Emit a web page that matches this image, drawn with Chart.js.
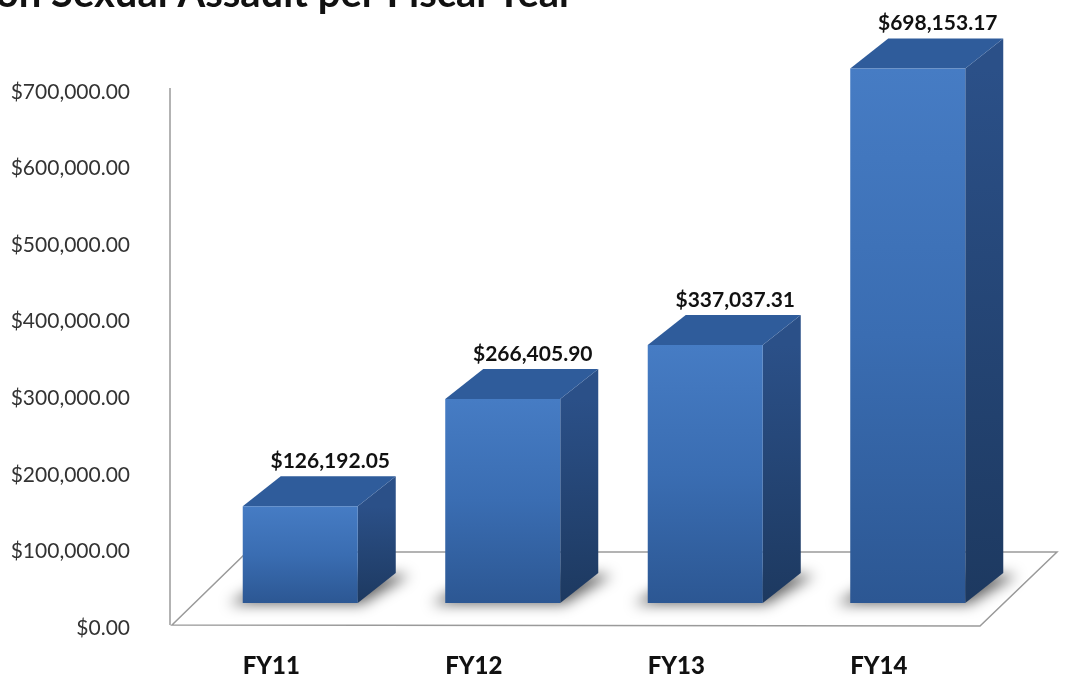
<!DOCTYPE html>
<html>
<head>
<meta charset="utf-8">
<script src="https://cdn.jsdelivr.net/npm/chart.js@4"></script>
<style>
  html, body { margin: 0; padding: 0; background: #fff; }
  #wrap { width: 1070px; height: 679px; }
</style>
</head>
<body>
<div id="wrap"><canvas id="chart" width="1070" height="679"></canvas></div>
<script>
// data
const years = ["FY11", "FY12", "FY13", "FY14"];
const spending = [126192.05, 266405.90, 337037.31, 698153.17];
const axisTicks = [0, 100000, 200000, 300000, 400000, 500000, 600000, 700000];
const titleText = "on Sexual Assault per Fiscal Year";

const DEPTH_X = 38, DEPTH_Y = -30;

function money(v) {
    return "$" + Number(v).toLocaleString("en-US", { minimumFractionDigits: 2, maximumFractionDigits: 2 });
}

// front face gradient per bar
function frontColor(ctx) {
    const chart = ctx.chart;
    if (!chart.chartArea) return "#3a6db3";
    const y = chart.scales.y;
    const top = y.getPixelForValue(ctx.raw);
    const bottom = y.getPixelForValue(0);
    const g = chart.ctx.createLinearGradient(0, top, 0, bottom);
    g.addColorStop(0, "#467cc4");
    g.addColorStop(0.5, "#3a6db2");
    g.addColorStop(1, "#2c5793");
    return g;
}

const backdrop = {
    id: "backdrop",
    beforeDatasetsDraw(chart) {
        const ctx = chart.ctx;
        const a = chart.chartArea;
        ctx.save();
        // left wall edge
        ctx.strokeStyle = "#9a9a9a";
        ctx.lineWidth = 1.5;
        ctx.beginPath();
        ctx.moveTo(a.left - 29, a.top + 21);
        ctx.lineTo(a.left - 29, a.bottom + 22);
        ctx.stroke();
        // floor
        ctx.beginPath();
        ctx.moveTo(a.left - 27, a.bottom + 22);
        ctx.lineTo(a.right - 29, a.bottom + 23);
        ctx.lineTo(a.right + 48, a.bottom - 51);
        ctx.lineTo(a.left + 48, a.bottom - 51);
        ctx.closePath();
        ctx.stroke();

        const meta = chart.getDatasetMeta(0);
        meta.data.forEach(bar => {
            const l = bar.x - bar.width / 2, r = bar.x + bar.width / 2;
            const t = bar.y, b = bar.base;
            // soft floor shadow
            ctx.save();
            ctx.filter = "blur(7px)";
            ctx.fillStyle = "rgba(0,0,0,0.6)";
            ctx.beginPath();
            ctx.moveTo(l - 14, b + 1);
            ctx.lineTo(r + 4, b + 1);
            ctx.lineTo(r + DEPTH_X + 14, b + DEPTH_Y + 2);
            ctx.lineTo(l + DEPTH_X, b + DEPTH_Y);
            ctx.closePath();
            ctx.fill();
            ctx.restore();
            // side face
            const sg = ctx.createLinearGradient(0, t, 0, b);
            sg.addColorStop(0, "#2b5088");
            sg.addColorStop(1, "#1d3960");
            ctx.fillStyle = sg;
            ctx.beginPath();
            ctx.moveTo(r, t);
            ctx.lineTo(r + DEPTH_X, t + DEPTH_Y);
            ctx.lineTo(r + DEPTH_X, b + DEPTH_Y);
            ctx.lineTo(r, b);
            ctx.closePath();
            ctx.fill();
            // top face
            ctx.fillStyle = "#2f5c9b";
            ctx.beginPath();
            ctx.moveTo(l, t);
            ctx.lineTo(l + DEPTH_X, t + DEPTH_Y);
            ctx.lineTo(r + DEPTH_X, t + DEPTH_Y);
            ctx.lineTo(r, t);
            ctx.closePath();
            ctx.fill();
        });
        ctx.restore();
    },
    afterDatasetsDraw(chart) {
        const ctx = chart.ctx;
        const meta = chart.getDatasetMeta(0);
        ctx.save();
        ctx.font = "bold 21px Lato";
        ctx.fillStyle = "#111";
        ctx.textAlign = "center";
        ctx.textBaseline = "middle";
        meta.data.forEach((bar, i) => {
            ctx.fillText(money(spending[i]), bar.x + 30, bar.y + DEPTH_Y - 15);
        });
        // title, cut off by the top edge
        ctx.font = "bold 40px Lato";
        ctx.textAlign = "right";
        ctx.textBaseline = "alphabetic";
        ctx.fillText(titleText, 574, 7);
        ctx.restore();
    }
};

new Chart(document.getElementById("chart"), {
    type: "bar",
    data: {
        labels: years,
        datasets: [{
            data: spending,
            backgroundColor: frontColor,
            borderWidth: 0,
            barPercentage: 0.568,
            categoryPercentage: 1
        }]
    },
    plugins: [backdrop],
    options: {
        responsive: false,
        animation: false,
        layout: { padding: { top: 67, right: 61, left: 0, bottom: 0 } },
        plugins: { legend: { display: false }, tooltip: { enabled: false } },
        scales: {
            x: {
                grid: { display: false },
                border: { display: false },
                ticks: {
                    font: { family: "Lato", size: 24, weight: "900" },
                    color: "#111",
                    labelOffset: -29,
                    padding: 41
                },
                afterFit(s) { s.height = 76; }
            },
            y: {
                min: 0,
                max: 700000,
                afterBuildTicks(s) { s.ticks = axisTicks.map(v => ({ value: v })); },
                grid: { display: false },
                border: { display: false },
                ticks: {
                    font: { family: "Lato", size: 21 },
                    color: "#333",
                    labelOffset: 25,
                    padding: 61,
                    callback: v => money(v)
                },
                afterFit(s) {
                    s.width = 199;
                    s.paddingTop = 0;
                    s.paddingBottom = 0;
                }
            }
        }
    }
});
</script>
</body>
</html>
